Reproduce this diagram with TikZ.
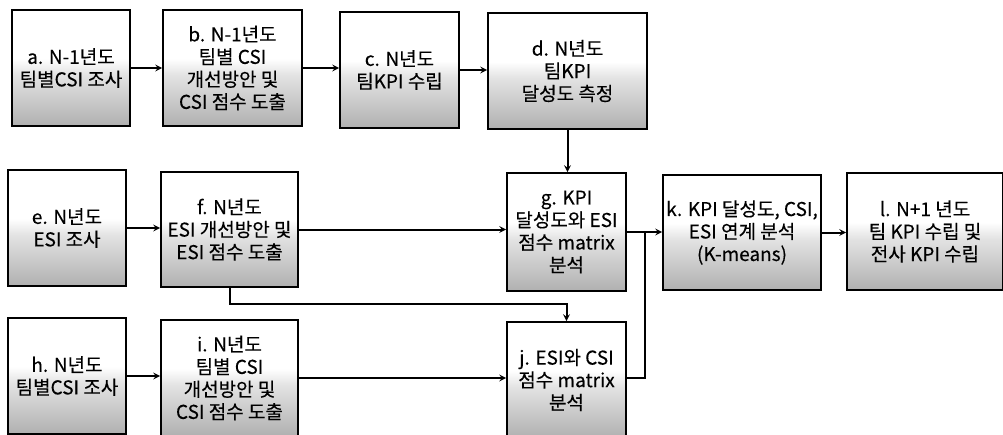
\documentclass[tikz,border=0pt]{standalone}
\usepackage{fontspec}
\setmainfont{Noto Sans CJK KR}[FakeBold=0.3]
\usetikzlibrary{calc}
% white top half, dotted grey towards the bottom
\pgfdeclareverticalshading{boxfade}{100bp}{color(0bp)=(gray!62); color(25bp)=(gray!62);
  color(47bp)=(gray!22); color(54bp)=(white); color(75bp)=(white); color(100bp)=(white)}

\begin{document}
\begin{tikzpicture}[>=stealth, x=1pt, y=-1pt,
  stage/.style={draw, line width=1.7pt, shading=boxfade, align=center, inner sep=1pt,
    font=\fontsize{19}{22.5}\selectfont},
  boxsize/.style 2 args={minimum width=#1pt, minimum height=#2pt},
  flow/.style={->, line width=2pt}]
  \clip (0,0) rectangle (1003,434);
  % first row: last year's CSI and this year's KPI
  \node[stage, boxsize={118}{116}] (a) at (71,68) {a. N-1년도\\팀별CSI 조사};
  \node[stage, boxsize={139}{116}] (b) at (232.5,68) {b. N-1년도\\팀별 CSI\\개선방안 및\\CSI 점수 도출};
  \node[stage, boxsize={119}{116}] (c) at (399.5,70) {c. N년도\\팀KPI 수립};
  \node[stage, boxsize={159}{116}] (d) at (567.5,71) {d. N년도\\팀KPI\\달성도 측정};
  % second row: ESI and the joint analysis
  \node[stage, boxsize={118}{116}] (e) at (67,228) {e. N년도\\ESI 조사};
  \node[stage, boxsize={137}{115}] (f) at (229.5,229.5) {f. N년도\\ESI 개선방안 및\\ESI 점수 도출};
  \node[stage, boxsize={119}{118}] (g) at (566.5,232) {g. KPI\\달성도와 ESI\\점수 matrix\\분석};
  \node[stage, boxsize={158}{115}] (k) at (742,232.5) {k. KPI 달성도, CSI,\\ESI 연계 분석\\(K-means)};
  \node[stage, boxsize={156}{117}] (l) at (925,231.5) {l. N+1 년도\\팀 KPI 수립 및\\전사 KPI 수립};
  % third row: this year's CSI (cut by the lower edge)
  \node[stage, boxsize={118}{116}] (h) at (67,376) {h. N년도\\팀별CSI 조사};
  \node[stage, boxsize={137}{116}] (i) at (229.5,378) {i. N년도\\팀별 CSI\\개선방안 및\\CSI 점수 도출};
  \node[stage, boxsize={119}{116}] (j) at (566.5,380) {j. ESI와 CSI\\점수 matrix\\분석};

  \coordinate (jn) at ($(g.east)!0.5!(k.west)$);

  \draw[flow] (a) -- (b);
  \draw[flow] (b.east) -- (c.west |- b.east);
  \draw[flow] (c.east) -- (d.west |- c.east);
  \draw[flow] (d.south) -- (d.south |- g.north);
  \draw[flow] (e.east) -- (f.west |- e.east);
  \draw[flow] (f.east) -- (g.west |- f.east);
  \draw[flow] (f.south) -- ++(0,16) -| (j.north);
  \draw[flow] (g.east) -- (k.west |- g.east);
  \draw[line width=2pt] (j.east |- i.east) -| (jn);
  \draw[flow] (k.east) -- (l.west |- k.east);
  \draw[flow] (h.east) -- (i.west |- h.east);
  \draw[flow] (i.east) -- (j.west |- i.east);
\end{tikzpicture}
\end{document}
